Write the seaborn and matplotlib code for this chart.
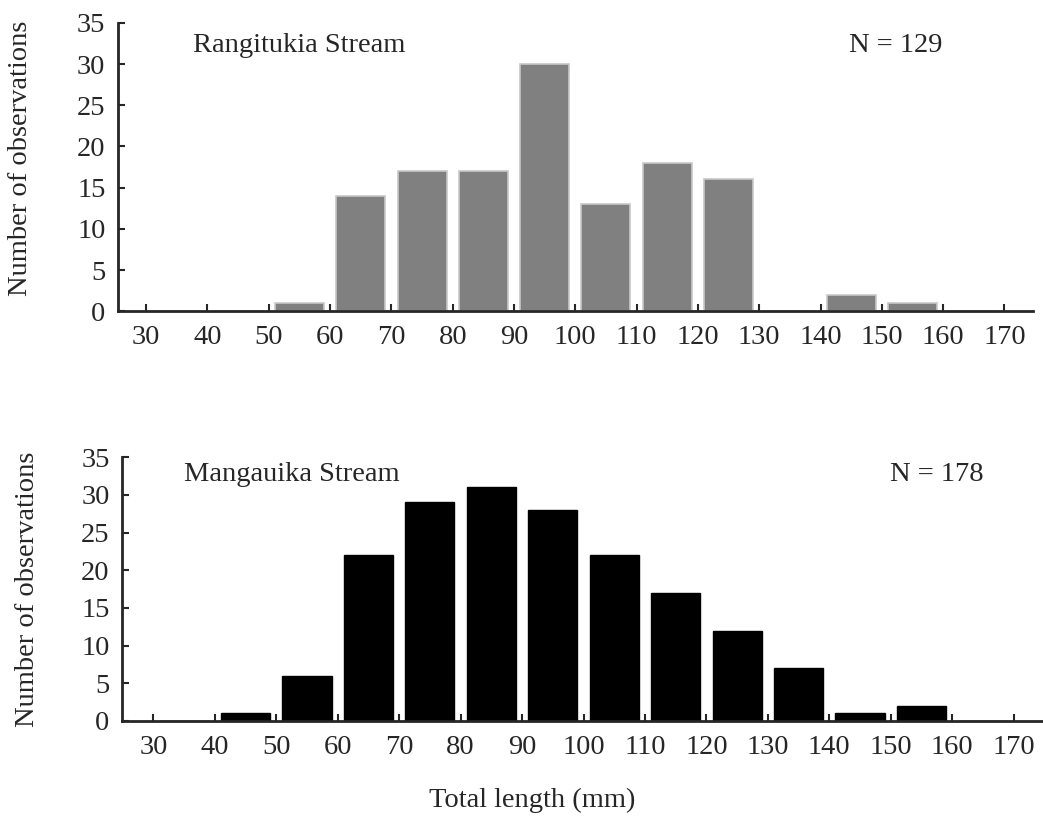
import matplotlib
matplotlib.use("Agg")
import matplotlib.pyplot as plt
import seaborn as sns
import pandas as pd

# bin centres (10 mm classes) and counts
bin_centres = [35, 45, 55, 65, 75, 85, 95, 105, 115, 125, 135, 145, 155, 165]
rangitukia = [0, 0, 1, 14, 17, 17, 30, 13, 18, 16, 0, 2, 1, 0]
mangauika = [0, 1, 6, 22, 29, 31, 28, 22, 17, 12, 7, 1, 2, 0]
x_ticks = list(range(30, 171, 10))
y_ticks = list(range(0, 36, 5))

sns.set_style("ticks")
plt.rcParams["font.family"] = ["Liberation Serif", "DejaVu Serif"]
FS = 20.5

fig = plt.figure(figsize=(10.43, 8.19), dpi=100)
ax1 = fig.add_axes([0.1131, 0.620, 0.877, 0.352])
ax2 = fig.add_axes([0.117, 0.1197, 0.882, 0.322])

df1 = pd.DataFrame({"length": bin_centres, "count": rangitukia})
df2 = pd.DataFrame({"length": bin_centres, "count": mangauika})

sns.barplot(data=df1, x="length", y="count", native_scale=True, width=0.8,
            color="#808080", edgecolor="#c8c8c8", linewidth=1.2, saturation=1, ax=ax1)
sns.barplot(data=df2, x="length", y="count", native_scale=True, width=0.8,
            color="black", edgecolor="black", linewidth=1, saturation=1, ax=ax2)

panels = [(ax1, (25.4, 174.6), "Rangitukia Stream", 37.6, 32.3, "N = 129", 144.7, -0.093, 0.53),
          (ax2, (24.9, 174.6), "Mangauika Stream", 35.0, 32.7, "N = 178", 149.8, -0.089, 0.5)]
for ax, xl, name, nx, ny, ntxt, tx, lx, ly in panels:
    ax.set_xlim(*xl)
    ax.set_ylim(0, 35)
    ax.set_xticks(x_ticks)
    ax.set_xticklabels([str(t) for t in x_ticks])
    ax.set_yticks(y_ticks)
    ax.tick_params(direction="in", length=5, width=1.5, labelsize=FS)
    ax.tick_params(axis="x", pad=10)
    ax.tick_params(axis="y", pad=9)
    for s in ["top", "right"]:
        ax.spines[s].set_visible(False)
    for s in ["left", "bottom"]:
        ax.spines[s].set_linewidth(2)
    ax.set_xlabel("")
    ax.set_ylabel("Number of observations", fontsize=FS)
    ax.yaxis.set_label_coords(lx, ly)
    ax.text(nx, ny, name, fontsize=FS, va="center", ha="left")
    ax.text(tx, ny, ntxt, fontsize=FS, va="center", ha="left")

fig.text(0.51, 1 - 800 / 819, "Total length (mm)", ha="center", va="center", fontsize=FS)

fig.savefig("out.png", dpi=100)
